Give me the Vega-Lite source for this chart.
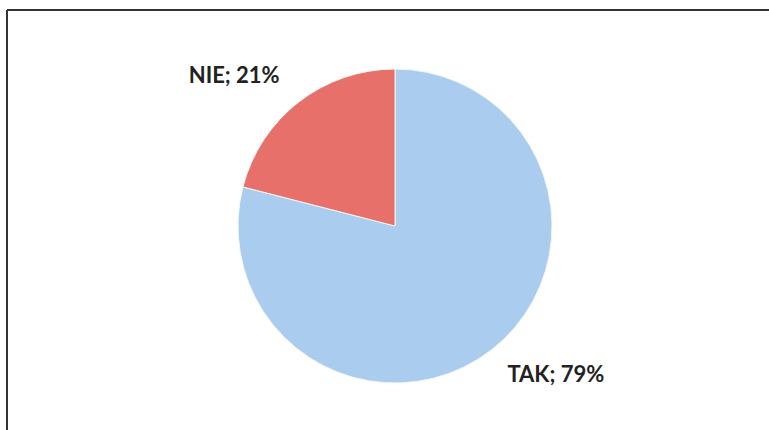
{
  "$schema": "https://vega.github.io/schema/vega-lite/v6.json",
  "width": 776,
  "height": 432,
  "autosize": {"type": "none"},
  "padding": {"left": 7, "top": 10, "right": -14, "bottom": -12},
  "background": "white",
  "data": {"values": [
    {"answer": "TAK", "pct": 79, "order": 1, "label": "TAK; 79%"},
    {"answer": "NIE", "pct": 21, "order": 2, "label": "NIE; 21%"}
  ]},
  "layer": [
    {
      "mark": {"type": "rule", "stroke": "#333333", "strokeWidth": 2},
      "encoding": {"y": {"value": 0}}
    },
    {
      "mark": {"type": "rule", "stroke": "#333333", "strokeWidth": 2},
      "encoding": {"x": {"value": 0}}
    },
    {
      "mark": {"type": "arc", "outerRadius": 157, "stroke": "#f4f6f8", "strokeWidth": 1},
      "encoding": {
        "theta": {"field": "pct", "type": "quantitative", "stack": true},
        "order": {"field": "order", "type": "quantitative"},
        "color": {
          "field": "answer", "type": "nominal",
          "scale": {"domain": ["TAK", "NIE"], "range": ["#AACCEE", "#E8706A"]},
          "legend": null
        }
      }
    },
    {
      "mark": {"type": "text", "radius": 220, "dx": -26, "dy": 24, "font": "Lato", "fontWeight": "bold", "fontSize": 22, "fill": "#222222"},
      "encoding": {
        "theta": {"field": "pct", "type": "quantitative", "stack": true},
        "order": {"field": "order", "type": "quantitative"},
        "text": {"condition": {"test": "datum.answer === 'NIE'", "field": "label"}, "value": ""}
      }
    },
    {
      "mark": {"type": "text", "radius": 220, "dx": 26, "dy": -25, "font": "Lato", "fontWeight": "bold", "fontSize": 22, "fill": "#222222"},
      "encoding": {
        "theta": {"field": "pct", "type": "quantitative", "stack": true},
        "order": {"field": "order", "type": "quantitative"},
        "text": {"condition": {"test": "datum.answer === 'TAK'", "field": "label"}, "value": ""}
      }
    }
  ]
}
